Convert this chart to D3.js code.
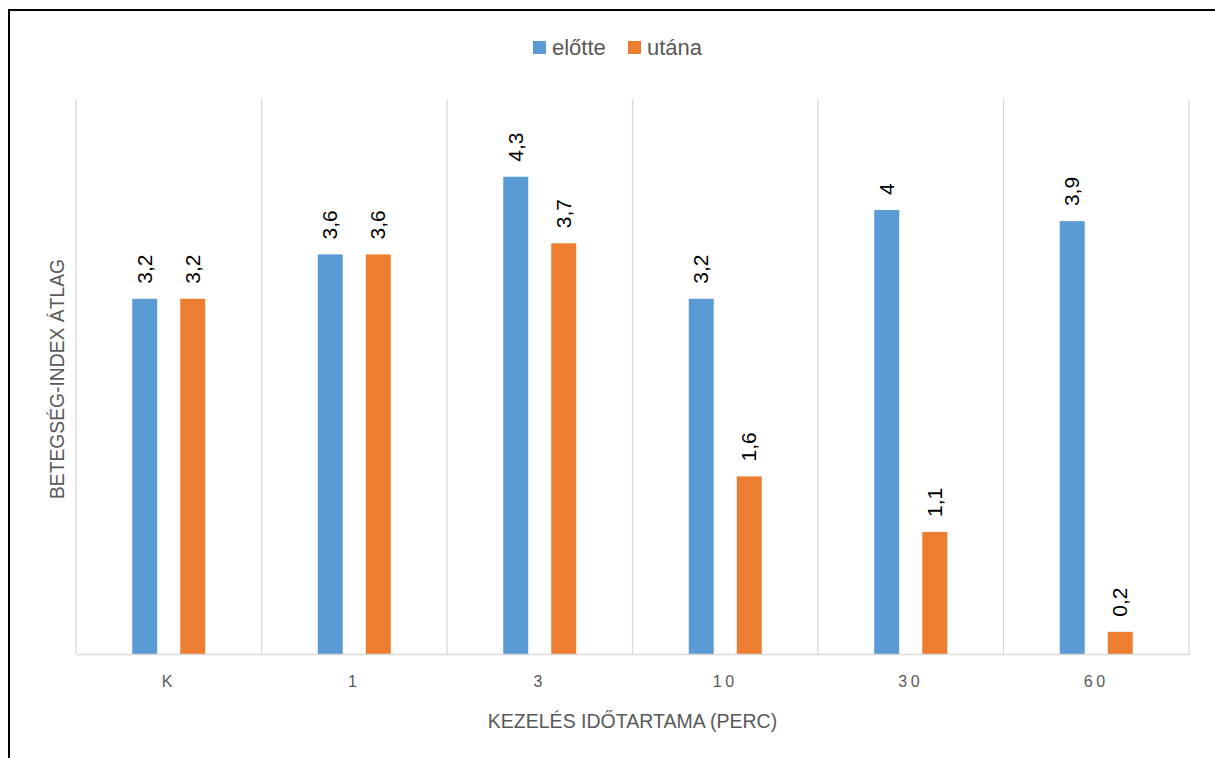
<!DOCTYPE html>
<html>
<head>
<meta charset="utf-8">
<script src="https://cdn.jsdelivr.net/npm/d3@7"></script>
<style>
  html, body { margin: 0; padding: 0; background: #fff; }
  svg { display: block; }
  text { font-family: "Liberation Sans", Arial, sans-serif; }
</style>
</head>
<body>
<script>
// Treatment durations (minutes), K = control
const categories = ["K", "1", "3", "10", "30", "60"];
const seriesNames = ["előtte", "utána"];
const before = [3.2, 3.6, 4.3, 3.2, 4, 3.9];
const after = [3.2, 3.6, 3.7, 1.6, 1.1, 0.2];
const yMax = 5;
const colors = ["#5b9bd5", "#ed7d31"];

const W = 1215, H = 758;
const plot = { left: 76, right: 1189, top: 99, bottom: 654 };

const svg = d3.select("body").append("svg")
  .attr("width", W).attr("height", H);

// outer frame (left and top edges)
svg.append("line").attr("x1", 9).attr("x2", 9).attr("y1", 9).attr("y2", H)
  .attr("stroke", "#000").attr("stroke-width", 2);
svg.append("line").attr("x1", 8).attr("x2", W).attr("y1", 10).attr("y2", 10)
  .attr("stroke", "#000").attr("stroke-width", 2);

const x = d3.scaleBand().domain(categories)
  .range([plot.left, plot.right]).paddingInner(0).paddingOuter(0);
const xs = d3.scaleBand().domain(seriesNames)
  .range([x.bandwidth() / 2 - 36.5, x.bandwidth() / 2 + 36.5]).paddingInner(0.48);
const y = d3.scaleLinear().domain([0, yMax]).range([plot.bottom, plot.top]);

// vertical gridlines at category boundaries
const bounds = categories.map(c => x(c)).concat([plot.right]);
svg.append("g").selectAll("line").data(bounds).join("line")
  .attr("x1", d => d).attr("x2", d => d)
  .attr("y1", plot.top).attr("y2", plot.bottom)
  .attr("stroke", "#d9d9d9").attr("stroke-width", 1.3);

// bars
const rows = categories.map((c, i) => ({ cat: c, vals: [before[i], after[i]] }));
const groups = svg.append("g").selectAll("g").data(rows).join("g")
  .attr("transform", d => `translate(${x(d.cat)},0)`);

groups.selectAll("rect")
  .data(d => d.vals.map((v, j) => ({ name: seriesNames[j], v, j })))
  .join("rect")
  .attr("x", d => xs(d.name))
  .attr("width", xs.bandwidth())
  .attr("y", d => y(d.v))
  .attr("height", d => y(0) - y(d.v))
  .attr("fill", d => colors[d.j]);

// rotated value labels
groups.selectAll("text.val")
  .data(d => d.vals.map((v, j) => ({ name: seriesNames[j], v, j })))
  .join("text").attr("class", "val")
  .attr("transform", d => `translate(${xs(d.name) + xs.bandwidth() / 2 + 7},${y(d.v) - 15}) rotate(-90)`)
  .attr("text-anchor", "start")
  .attr("font-size", 21)
  .attr("fill", "#000")
  .text(d => String(d.v).replace(".", ","));

// x axis
const xAxis = svg.append("g").attr("transform", `translate(0,${plot.bottom})`)
  .call(d3.axisBottom(x).tickSize(0).tickPadding(22));
xAxis.select(".domain").attr("stroke", "#d9d9d9").attr("stroke-width", 1.3);
xAxis.selectAll(".tick text")
  .attr("font-family", "Liberation Sans, Arial, sans-serif")
  .attr("font-size", 16).attr("fill", "#595959")
  .attr("letter-spacing", "3.5px");

// axis titles
svg.append("text")
  .attr("x", (plot.left + plot.right) / 2).attr("y", 728)
  .attr("text-anchor", "middle").attr("font-size", 19.5).attr("fill", "#595959")
  .text("KEZELÉS IDŐTARTAMA (PERC)");

svg.append("text")
  .attr("transform", `translate(64,379) rotate(-90)`)
  .attr("text-anchor", "middle").attr("font-size", 19.3).attr("fill", "#595959")
  .text("BETEGSÉG-INDEX ÁTLAG");

// legend
const legend = svg.append("g");
const legendItems = [{ name: seriesNames[0], x: 533, c: colors[0] }, { name: seriesNames[1], x: 628, c: colors[1] }];
legend.selectAll("rect").data(legendItems).join("rect")
  .attr("x", d => d.x).attr("y", 41).attr("width", 13).attr("height", 13)
  .attr("fill", d => d.c);
legend.selectAll("text").data(legendItems).join("text")
  .attr("x", d => d.x + 19).attr("y", 55)
  .attr("font-size", 22).attr("fill", "#595959")
  .text(d => d.name);
</script>
</body>
</html>
